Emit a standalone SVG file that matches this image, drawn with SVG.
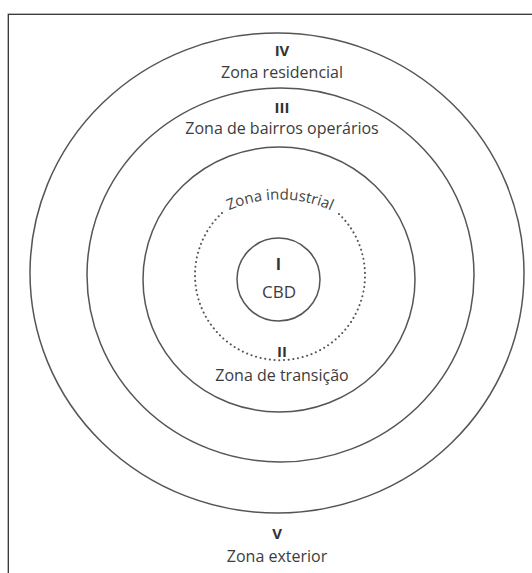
<svg xmlns="http://www.w3.org/2000/svg" width="532" height="573" viewBox="0 0 532 573">
  <style>
    .ring { fill: none; stroke: #555; stroke-width: 1.5; }
    .dots { fill: none; stroke: #555; stroke-width: 2; stroke-dasharray: 0.1 4.6; stroke-linecap: round; }
    .lbl { font-family: "Open Sans", "Liberation Sans", sans-serif; font-size: 16px; fill: #3c3c3c; text-anchor: middle; }
    .num { font-family: "Open Sans", "Liberation Sans", sans-serif; font-size: 15px; font-weight: bold; fill: #333; text-anchor: middle; }
    .ind { font-family: "Open Sans", "Liberation Sans", sans-serif; font-size: 15px; fill: #444; }
  </style>
  <defs>
    <path id="indArc" d="M 218,216 A 125,125 0 0 1 342,216"/>
  </defs>
  <rect x="8.3" y="14.3" width="560" height="600" fill="#fff" stroke="#333" stroke-width="1.3"/>

  <g id="zone-V">
    <text class="num" x="277" y="539">V</text>
    <text class="lbl" x="277" y="562">Zona exterior</text>
  </g>
  <g id="zone-IV">
    <ellipse class="ring" cx="277" cy="273" rx="247" ry="240"/>
    <text class="num" x="282" y="56">IV</text>
    <text class="lbl" x="282" y="78">Zona residencial</text>
  </g>
  <g id="zone-III">
    <ellipse class="ring" cx="280.5" cy="275" rx="193.5" ry="187"/>
    <text class="num" x="282" y="113">III</text>
    <text class="lbl" x="282" y="134">Zona de bairros operários</text>
  </g>
  <g id="zone-II">
    <ellipse class="ring" cx="279" cy="279.5" rx="136" ry="132.5"/>
    <text class="num" x="282" y="357">II</text>
    <text class="lbl" x="282" y="381">Zona de transição</text>
  </g>
  <g id="zona-industrial">
    <path class="dots" d="M 222,213 A 85,85 0 1 0 338,213"/>
    <text class="ind"><textPath href="#indArc" startOffset="50%" text-anchor="middle">Zona industrial</textPath></text>
  </g>
  <g id="zone-I">
    <circle class="ring" cx="278.5" cy="279.5" r="41.5"/>
    <text class="num" x="278.5" y="270" style="font-size:16px">I</text>
    <text class="lbl" x="279" y="298" style="font-size:17px">CBD</text>
  </g>
</svg>
